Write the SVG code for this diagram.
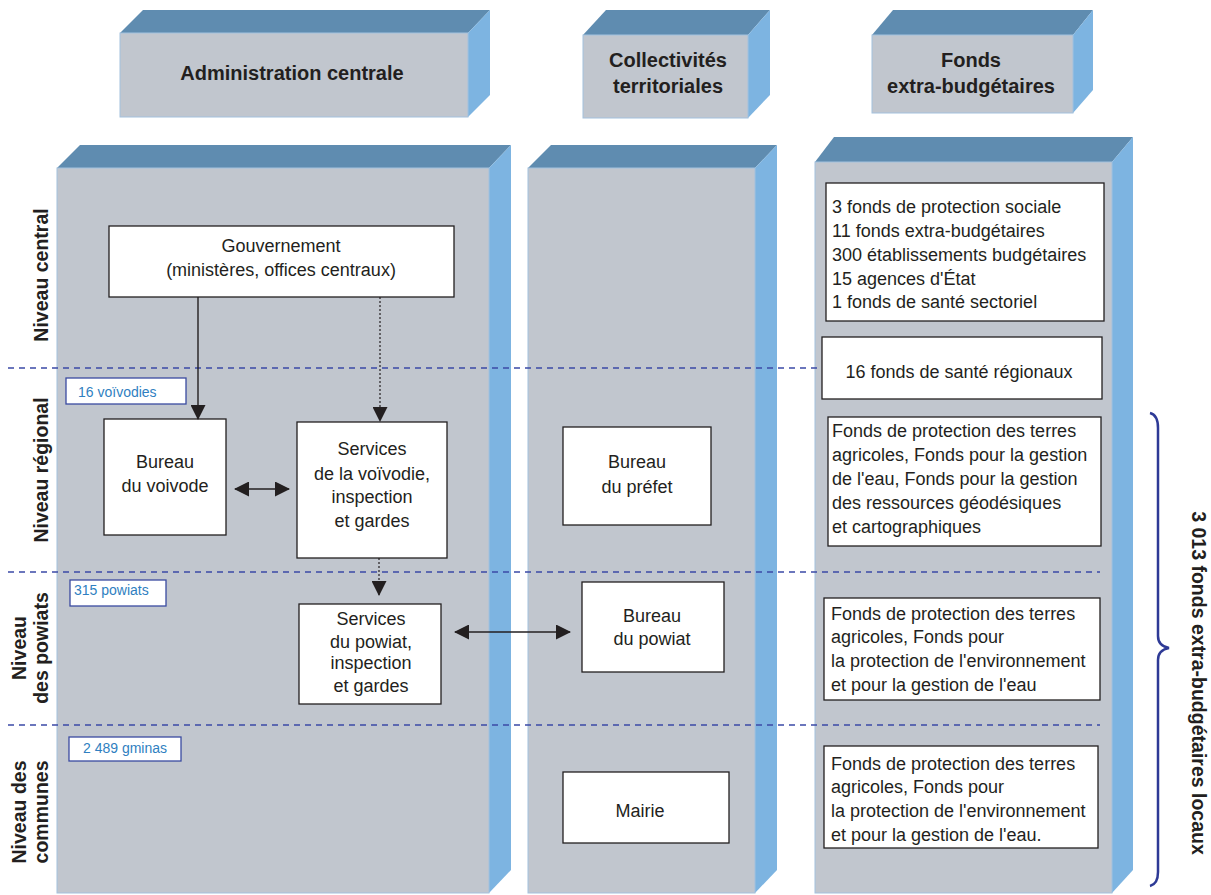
<svg xmlns="http://www.w3.org/2000/svg" width="1211" height="895" viewBox="0 0 1211 895">
<style>
.top{fill:#5f8cb0}
.front{fill:#c1c6ce;stroke:#a3c1de;stroke-width:1}
.side{fill:#7db4e1}
.box{fill:#ffffff;stroke:#231f20;stroke-width:1.3}
.bbox{fill:#ffffff;stroke:#3a4aa0;stroke-width:1.3}
.t{font-family:"Liberation Sans",Arial,sans-serif;font-size:18px;fill:#231f20}
.c{text-anchor:middle}
.h{font-family:"Liberation Sans",Arial,sans-serif;font-size:20px;font-weight:bold;fill:#231f20;text-anchor:middle}
.r{font-family:"Liberation Sans",Arial,sans-serif;font-size:19.5px;font-weight:bold;fill:#231f20;text-anchor:middle}
.s{font-family:"Liberation Sans",Arial,sans-serif;font-size:14px;fill:#2f7fc1}
.dash{stroke:#3b4aa6;stroke-width:1.3;stroke-dasharray:6 5;fill:none}
.arr{stroke:#231f20;stroke-width:1.4;fill:none}
.dot{stroke:#231f20;stroke-width:1.2;stroke-dasharray:2 2;fill:none}
</style>
<defs>
<marker id="ah" viewBox="0 0 15 15" refX="14" refY="7.5" markerWidth="15" markerHeight="15" markerUnits="userSpaceOnUse" orient="auto-start-reverse">
<path d="M0,0 L15,7.5 L0,15 z" fill="#231f20"/>
</marker>
</defs>

<!-- Header boxes -->
<g id="hdr-admin">
<polygon class="top" points="120,33 143,10 490,10 468,33"/>
<polygon class="side" points="468,33 490,10 490,95 468,117"/>
<rect class="front" x="120" y="33" width="348" height="84"/>
<text class="h" x="292" y="80">Administration centrale</text>
</g>
<g id="hdr-coll">
<polygon class="top" points="583,35 606,10 770,10 748,35"/>
<polygon class="side" points="748,35 770,10 770,95 748,118"/>
<rect class="front" x="583" y="35" width="165" height="83"/>
<text class="h" x="668" y="67">Collectivités</text>
<text class="h" x="668" y="93">territoriales</text>
</g>
<g id="hdr-fonds">
<polygon class="top" points="872,35 893,10 1093,10 1073,35"/>
<polygon class="side" points="1073,35 1093,10 1093,90 1073,113"/>
<rect class="front" x="872" y="35" width="201" height="78"/>
<text class="h" x="971" y="67">Fonds</text>
<text class="h" x="971" y="93">extra-budgétaires</text>
</g>

<!-- Columns -->
<g id="col-admin">
<polygon class="top" points="57,168 80,145 511,145 489,168"/>
<polygon class="side" points="489,168 511,145 511,870 489,893"/>
<rect class="front" x="57" y="168" width="432" height="725"/>
</g>
<g id="col-coll">
<polygon class="top" points="528,168 551,145 777,145 755,168"/>
<polygon class="side" points="755,168 777,145 777,870 755,893"/>
<rect class="front" x="528" y="168" width="227" height="725"/>
</g>
<g id="col-fonds">
<polygon class="top" points="815,162 834,137 1133,137 1112,162"/>
<polygon class="side" points="1112,162 1133,137 1133,870 1112,893"/>
<rect class="front" x="815" y="162" width="297" height="731"/>
</g>

<!-- Level separators -->
<g id="separators">
<line class="dash" x1="8" y1="368" x2="1100" y2="368"/>
<line class="dash" x1="8" y1="572" x2="1100" y2="572"/>
<line class="dash" x1="8" y1="725" x2="1100" y2="725"/>
</g>

<!-- Row labels -->
<g id="lbl-central"><text class="r" transform="translate(48,275) rotate(-90)">Niveau central</text></g>
<g id="lbl-regional"><text class="r" transform="translate(48,470) rotate(-90)">Niveau régional</text></g>
<g id="lbl-powiats">
<text class="r" transform="translate(26,648) rotate(-90)">Niveau</text>
<text class="r" transform="translate(48,648) rotate(-90)">des powiats</text>
</g>
<g id="lbl-communes">
<text class="r" transform="translate(26,812) rotate(-90)">Niveau des</text>
<text class="r" transform="translate(48,812) rotate(-90)">communes</text>
</g>

<!-- Count boxes -->
<g id="cnt-voivodies"><rect class="bbox" x="66" y="378" width="120" height="26"/><text class="s" x="78" y="397">16 voïvodies</text></g>
<g id="cnt-powiats"><rect class="bbox" x="70" y="580" width="96" height="26"/><text class="s" x="74" y="595">315 powiats</text></g>
<g id="cnt-gminas"><rect class="bbox" x="69" y="737" width="112" height="24"/><text class="s" x="125" y="753" text-anchor="middle">2 489 gminas</text></g>

<!-- Admin nodes -->
<g id="gouv">
<rect class="box" x="109" y="226" width="345" height="71"/>
<text class="t c" x="281" y="252">Gouvernement</text>
<text class="t c" x="281" y="276">(ministères, offices centraux)</text>
</g>
<g id="voivode">
<rect class="box" x="104" y="419" width="122" height="116"/>
<text class="t c" x="165" y="468">Bureau</text>
<text class="t c" x="165" y="492">du voivode</text>
</g>
<g id="serv-voiv">
<rect class="box" x="297" y="422" width="150" height="136"/>
<text class="t c" x="372" y="455">Services</text>
<text class="t c" x="372" y="480">de la voïvodie,</text>
<text class="t c" x="372" y="503">inspection</text>
<text class="t c" x="372" y="527">et gardes</text>
</g>
<g id="serv-powiat">
<rect class="box" x="299" y="604" width="142" height="100"/>
<text class="t c" x="371" y="625">Services</text>
<text class="t c" x="371" y="648">du powiat,</text>
<text class="t c" x="371" y="669">inspection</text>
<text class="t c" x="371" y="692">et gardes</text>
</g>

<!-- Collectivités nodes -->
<g id="prefet">
<rect class="box" x="563" y="427" width="148" height="98"/>
<text class="t c" x="637" y="468">Bureau</text>
<text class="t c" x="637" y="493">du préfet</text>
</g>
<g id="bureau-powiat">
<rect class="box" x="582" y="582" width="142" height="90"/>
<text class="t c" x="652" y="622">Bureau</text>
<text class="t c" x="652" y="645">du powiat</text>
</g>
<g id="mairie">
<rect class="box" x="563" y="772" width="166" height="71"/>
<text class="t c" x="640" y="817">Mairie</text>
</g>

<!-- Fonds nodes -->
<g id="fonds-central">
<rect class="box" x="826" y="183" width="278" height="138"/>
<text class="t" x="832" y="213">3 fonds de protection sociale</text>
<text class="t" x="832" y="237">11 fonds extra-budgétaires</text>
<text class="t" x="832" y="261">300 établissements budgétaires</text>
<text class="t" x="832" y="285">15 agences d'État</text>
<text class="t" x="832" y="308">1 fonds de santé sectoriel</text>
</g>
<g id="fonds-sante">
<rect class="box" x="822" y="337" width="280" height="62"/>
<text class="t c" x="959" y="378">16 fonds de santé régionaux</text>
</g>
<g id="fonds-regional">
<rect class="box" x="828" y="417" width="273" height="129"/>
<text class="t" x="832" y="437">Fonds de protection des terres</text>
<text class="t" x="832" y="461">agricoles, Fonds pour la gestion</text>
<text class="t" x="832" y="485">de l'eau, Fonds pour la gestion</text>
<text class="t" x="832" y="509">des ressources géodésiques</text>
<text class="t" x="832" y="533">et cartographiques</text>
</g>
<g id="fonds-powiat">
<rect class="box" x="824" y="598" width="276" height="102"/>
<text class="t" x="831" y="620">Fonds de protection des terres</text>
<text class="t" x="831" y="643">agricoles, Fonds pour</text>
<text class="t" x="831" y="667">la protection de l'environnement</text>
<text class="t" x="831" y="691">et pour la gestion de l'eau</text>
</g>
<g id="fonds-communes">
<rect class="box" x="824" y="746" width="274" height="102"/>
<text class="t" x="831" y="770">Fonds de protection des terres</text>
<text class="t" x="831" y="793">agricoles, Fonds pour</text>
<text class="t" x="831" y="817">la protection de l'environnement</text>
<text class="t" x="831" y="841">et pour la gestion de l'eau.</text>
</g>

<!-- Brace and total -->
<g id="total">
<path d="M1150,413 Q1158,415 1158,428 L1158,636 Q1158,646 1169,648 Q1158,650 1158,660 L1158,872 Q1158,884 1150,886" fill="none" stroke="#2e3a96" stroke-width="2.5"/>
<text class="r" transform="translate(1192,683) rotate(90)">3 013 fonds extra-budgétaires locaux</text>
</g>

<!-- Connectors -->
<g id="connectors">
<line class="arr" x1="198" y1="297" x2="198" y2="419" marker-end="url(#ah)"/>
<line class="dot" x1="380" y1="297" x2="380" y2="421" marker-end="url(#ah)"/>
<line class="arr" x1="235" y1="489" x2="289" y2="489" marker-start="url(#ah)" marker-end="url(#ah)"/>
<line class="dot" x1="379" y1="558" x2="379" y2="595" marker-end="url(#ah)"/>
<line class="arr" x1="455" y1="632" x2="570" y2="632" marker-start="url(#ah)" marker-end="url(#ah)"/>
</g>
</svg>
